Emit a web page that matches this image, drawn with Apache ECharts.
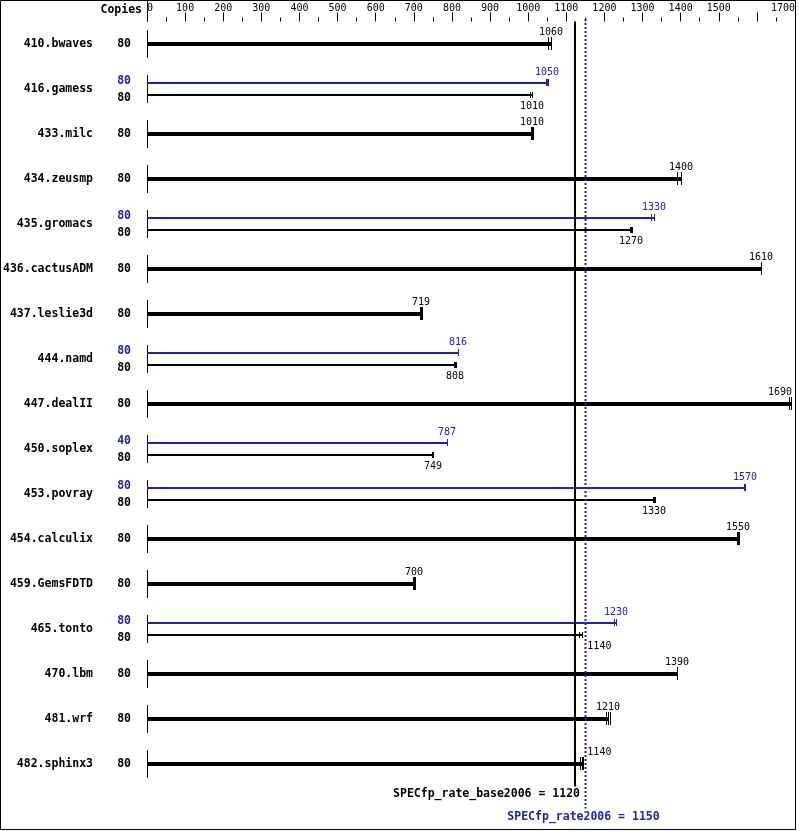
<!DOCTYPE html>
<html><head><meta charset="utf-8">
<script src="https://cdn.jsdelivr.net/npm/echarts@6/dist/echarts.min.js"></script>
<style>html,body{margin:0;padding:0;background:#fff}#c{width:799px;height:831px}</style>
</head><body><div id="c"></div><script>
const benchmarks = ['410.bwaves','416.gamess','433.milc','434.zeusmp','435.gromacs','436.cactusADM','437.leslie3d','444.namd','447.dealII','450.soplex','453.povray','454.calculix','459.GemsFDTD','465.tonto','470.lbm','481.wrf','482.sphinx3'];
const baseCopies = [80,80,80,80,80,80,80,80,80,80,80,80,80,80,80,80,80];
const peakCopies = [null,80,null,null,80,null,null,80,null,40,80,null,null,80,null,null,null];
const baseValues = [1060,1010,1010,1400,1270,1610,719,808,1690,749,1330,1550,700,1140,1390,1210,1140];
const peakValues = [null,1050,null,null,1330,null,null,816,null,787,1570,null,null,1230,null,null,null];
const baseRuns = [[1053,1060,1060],[1005,1010,1010],[1008,1010,1012],[1390,1400,1400],[1268,1270,1272],[1610],[717,719,721],[806,808,810],[1685,1690,1690],[747,749,751],[1328,1330,1332],[1548,1550,1552],[698,700,702],[1134,1140,1140],[1390],[1205,1210,1215],[1137,1140,1143]];
const peakRuns = [null,[1047,1050,1052],null,null,[1323,1330,1330],null,null,[815,816,817],null,[786,787,788],[1565,1570,1570],null,null,[1225,1230,1230],null,null,null];
const baseScore = 1120;
const peakScore = 1150;
const baseMetric = 'SPECfp_rate_base2006';
const peakMetric = 'SPECfp_rate2006';
const axisMin = 0, axisMax = 1700, axisStep = 100;
const shownTickLabels = [0,100,200,300,400,500,600,700,800,900,1000,1100,1200,1300,1400,1500,1700];

const FONT = '"DejaVu Sans Mono", monospace';
const BLACK = '#000000';
const BLUE = '#2222aa';

const chart = echarts.init(document.getElementById('c'), null, {renderer: 'canvas'});

function px(v) { return Math.round(v) + 0.5; }

function renderRow(params, api) {
  const i = api.value(1);
  const cs = params.coordSys;
  const yc = Math.round(api.coord([0, i])[1]);
  const x0 = px(api.coord([0, i])[0]);
  const peakX = api.coord([peakScore, i])[0];
  const rightEdge = cs.x + cs.width;
  const ch = [];
  const pair = peakValues[i] != null;

  function text(t, x, y, align, color, bold, size) {
    ch.push({type: 'text', style: {text: t, x: x, y: y, align: align, verticalAlign: 'middle',
      font: (bold ? 'bold ' : '') + size + 'px ' + FONT, fill: color}});
  }
  function valueLabel(v, x, y, color) {
    const t = String(v);
    const w = t.length * 6.02;
    if (Math.abs(x - peakX) < 12) text(t, peakX + 2, y, 'left', color, false, 10);
    else if (x + w / 2 > rightEdge) text(t, x + 1, y, 'right', color, false, 10);
    else text(t, x, y, 'center', color, false, 10);
  }
  function bar(v, runs, y, h, tickUp, tickDown, color) {
    const xe = Math.round(api.coord([v, i])[0]);
    ch.push({type: 'rect', shape: {x: x0 - 0.5, y: y - Math.floor(h / 2), width: xe - x0 + 0.5, height: h}, style: {fill: color}});
    runs.forEach(function (r) {
      const xr = px(api.coord([r, i])[0]);
      ch.push({type: 'line', shape: {x1: xr, y1: y - tickUp, x2: xr, y2: y + tickDown}, style: {stroke: color, lineWidth: 1}});
    });
    return xe;
  }

  text(benchmarks[i], 93, yc, 'right', BLACK, true, 11.5);
  ch.push({type: 'line', shape: {x1: x0, y1: yc - 14, x2: x0, y2: yc + 14}, style: {stroke: BLACK, lineWidth: 1}});

  if (!pair) {
    text(String(baseCopies[i]), 131, yc, 'right', BLACK, true, 11.5);
    const xe = bar(baseValues[i], baseRuns[i], yc, 4, 7, 6, BLACK);
    valueLabel(baseValues[i], xe, yc - 12, BLACK);
  } else {
    const yp = yc - 6, yb = yc + 6;
    text(String(peakCopies[i]), 131, yc - 8, 'right', BLUE, true, 11.5);
    text(String(baseCopies[i]), 131, yc + 9, 'right', BLACK, true, 11.5);
    const xp = bar(peakValues[i], peakRuns[i], yp, 2, 4, 3, BLUE);
    valueLabel(peakValues[i], xp, yp - 11, BLUE);
    const xb = bar(baseValues[i], baseRuns[i], yb, 2, 3, 3, BLACK);
    valueLabel(baseValues[i], xb, yb + 11, BLACK);
  }
  return {type: 'group', children: ch};
}

function renderRefs(params, api) {
  const cs = params.coordSys;
  const top = cs.y, bottom = cs.y + cs.height;
  const bx = Math.round(api.coord([baseScore, 0])[0]) + 1;
  const pX = Math.round(api.coord([peakScore, 0])[0]) + 0.5;
  const zx = px(api.coord([0, 0])[0]);
  return {type: 'group', children: [
    {type: 'line', shape: {x1: zx, y1: 0, x2: zx, y2: top}, style: {stroke: BLACK, lineWidth: 1}},
    {type: 'text', style: {text: 'Copies', x: 142, y: 10, align: 'right', verticalAlign: 'middle', font: 'bold 11.5px ' + FONT, fill: BLACK}},
    {type: 'line', shape: {x1: bx, y1: top, x2: bx, y2: bottom}, style: {stroke: BLACK, lineWidth: 2}},
    {type: 'line', shape: {x1: pX, y1: top - 2.5, x2: pX, y2: bottom + 22}, style: {stroke: BLUE, lineWidth: 2, lineDash: [2, 2]}},
    {type: 'text', style: {text: baseMetric + ' = ' + baseScore, x: bx + 5, y: bottom + 8, align: 'right', verticalAlign: 'middle', font: 'bold 11.5px ' + FONT, fill: BLACK}},
    {type: 'text', style: {text: peakMetric + ' = ' + peakScore, x: pX - 2, y: bottom + 31, align: 'center', verticalAlign: 'middle', font: 'bold 11.5px ' + FONT, fill: BLUE}}
  ]};
}

const option = {
  backgroundColor: '#ffffff',
  animation: false,
  grid: {left: 147, right: 4, top: 21.5, height: 765},
  xAxis: {
    type: 'value', position: 'top', min: axisMin, max: axisMax, interval: axisStep,
    axisLine: {show: false},
    axisTick: {show: true, length: 9, lineStyle: {color: BLACK, width: 1}},
    minorTick: {show: true, splitNumber: 2, length: 4, lineStyle: {color: BLACK, width: 1}},
    splitLine: {show: false}, minorSplitLine: {show: false},
    axisLabel: {
      show: true, margin: 8, color: BLACK, fontFamily: FONT, fontSize: 10,
      showMinLabel: true, showMaxLabel: true,
      alignMinLabel: 'left', alignMaxLabel: 'right',
      formatter: function (v) { return shownTickLabels.indexOf(v) >= 0 ? String(v) : ''; }
    }
  },
  yAxis: {type: 'category', data: benchmarks, inverse: true, show: false},
  series: [
    {type: 'custom', clip: false, z: 2, renderItem: renderRow, encode: {x: 0, y: 1},
     data: benchmarks.map(function (b, i) { return [0, i]; })},
    {type: 'custom', clip: false, z: 3, renderItem: renderRefs, encode: {x: 0, y: 1},
     data: [[peakScore, 0]]}
  ],
  graphic: [
    {type: 'rect', shape: {x: 0.5, y: 0.5, width: 795, height: 829}, style: {fill: null, stroke: BLACK, lineWidth: 1}, silent: true}
  ]
};
chart.setOption(option);
</script></body></html>
